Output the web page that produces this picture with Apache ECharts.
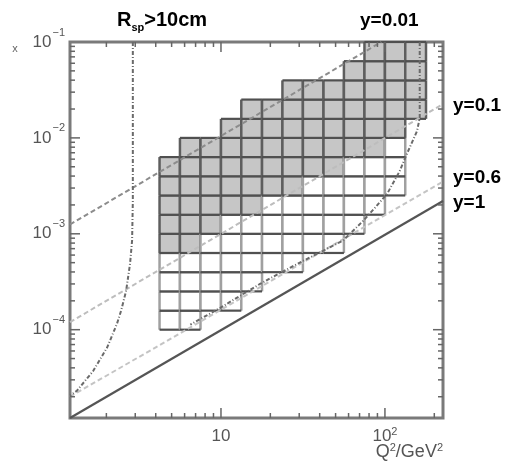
<!DOCTYPE html>
<html>
<head>
<meta charset="utf-8">
<title>R_sp>10cm</title>
<script src="https://cdn.jsdelivr.net/npm/echarts@6.0.0/dist/echarts.min.js"></script>
<style>
html, body { margin: 0; padding: 0; background: #fff; }
#main { width: 509px; height: 463px; }
</style>
</head>
<body>
<div id="main"></div>
<script>
// bin edges (Q2 columns, x rows)
var q2Edges = [4.22, 5.62, 7.5, 10, 13.3, 17.8, 23.7, 31.6, 42.2, 56.2, 75, 100, 133, 178];
var xEdges = [1e-4, 1.58e-4, 2.51e-4, 3.98e-4, 6.31e-4, 1e-3, 1.58e-3, 2.51e-3, 3.98e-3, 6.31e-3,
              1e-2, 1.58e-2, 2.51e-2, 3.98e-2, 6.31e-2, 1e-1];
// for each Q2 column: lowest row, highest row, first shaded row
var colLow  = [0, 0, 1, 1, 2, 3, 3, 4, 4, 5, 6, 7, 11];
var colHigh = [8, 9, 9, 10, 11, 11, 12, 12, 12, 13, 14, 14, 14];
var colGrey = [4, 4, 5, 6, 6, 7, 7, 8, 8, 9, 9, 10, 11];

// lines of constant y
var lineY1   = [[1.2, 1.2e-5], [226, 2.2e-3]];
var lineY06  = [[1.2, 2.0e-5], [226, 3.5e-3]];
var lineY01  = [[1.2, 1.2e-4], [226, 2.25e-2]];
var lineY001 = [[1.2, 1.25e-3], [95, 0.1]];
// acceptance curves
var accLeft = [[2.9, 0.1], [2.9, 2.2e-3], [2.87, 8.5e-4], [2.79, 4.9e-4], [2.64, 2.55e-4], [2.46, 1.58e-4],
               [2.32, 1.15e-4], [2.02, 6.5e-5], [1.66, 3.7e-5], [1.32, 2.3e-5], [1.2, 2.05e-5]];
var accRight = [[163, 0.1], [163, 1.62e-2], [157, 1.18e-2], [136, 6.8e-3], [123, 4.5e-3], [103, 2.6e-3],
                [87, 1.87e-3], [73.5, 1.36e-3], [55.5, 8.5e-4], [41.9, 6.65e-4], [31.6, 5.2e-4],
                [22.9, 3.9e-4], [17.3, 3.0e-4], [13.1, 2.26e-4], [9.9, 1.69e-4], [6.5, 1.13e-4]];

// axis ticks
var xMajorTicks = [10, 100];
var xMinorTicks = [2, 3, 4, 5, 6, 7, 8, 9, 20, 30, 40, 50, 60, 70, 80, 90, 200];
var yMajorTicks = [1e-4, 1e-3, 1e-2];
var yMinorTicks = [2e-5, 3e-5, 4e-5, 5e-5, 6e-5, 7e-5, 8e-5, 9e-5,
                   2e-4, 3e-4, 4e-4, 5e-4, 6e-4, 7e-4, 8e-4, 9e-4,
                   2e-3, 3e-3, 4e-3, 5e-3, 6e-3, 7e-3, 8e-3, 9e-3,
                   2e-2, 3e-2, 4e-2, 5e-2, 6e-2, 7e-2, 8e-2, 9e-2];

var Q2MIN = 1.2, Q2MAX = 226, XMIN = 1.2e-5, XMAX = 0.1;

var cells = [];
for (var i = 0; i < q2Edges.length - 1; i++) {
    for (var j = colLow[i]; j <= colHigh[i]; j++) {
        cells.push([q2Edges[i], q2Edges[i + 1], xEdges[j], xEdges[j + 1], j >= colGrey[i] ? 1 : 0]);
    }
}

var ticks = [];
xMinorTicks.forEach(function (v) { ticks.push([v, 1e-3, 0]); });
xMajorTicks.forEach(function (v) { ticks.push([v, 1e-3, 1]); });
yMinorTicks.forEach(function (v) { ticks.push([10, v, 2]); });
yMajorTicks.forEach(function (v) { ticks.push([10, v, 3]); });

function renderCell(params, api) {
    var p0 = api.coord([api.value(0), api.value(3)]);
    var p1 = api.coord([api.value(1), api.value(2)]);
    var grey = api.value(4) === 1;
    var x0 = p0[0], y0 = p0[1], x1 = p1[0], y1 = p1[1];
    var vSt = { stroke: grey ? '#5e5e5e' : '#a0a0a0', lineWidth: 2.5 };
    var hSt = { stroke: '#505050', lineWidth: 2.2 };
    return {
        type: 'group',
        children: [
            { type: 'rect', shape: { x: x0, y: y0, width: x1 - x0, height: y1 - y0 },
              style: { fill: grey ? '#c6c6c6' : '#fff' } },
            { type: 'line', shape: { x1: x0, y1: y0, x2: x0, y2: y1 }, style: vSt },
            { type: 'line', shape: { x1: x1, y1: y0, x2: x1, y2: y1 }, style: vSt },
            { type: 'line', shape: { x1: x0, y1: y0, x2: x1, y2: y0 }, style: hSt },
            { type: 'line', shape: { x1: x0, y1: y1, x2: x1, y2: y1 }, style: hSt }
        ]
    };
}

function renderTick(params, api) {
    var cs = params.coordSys;
    var k = api.value(2);
    var p = api.coord([api.value(0), api.value(1)]);
    var len = (k === 1 || k === 3) ? 10 : 5;
    var st = { stroke: '#666', lineWidth: 1.5 };
    var bot = cs.y + cs.height, right = cs.x + cs.width;
    if (k < 2) {
        return { type: 'group', children: [
            { type: 'line', shape: { x1: p[0], y1: bot, x2: p[0], y2: bot - len }, style: st },
            { type: 'line', shape: { x1: p[0], y1: cs.y, x2: p[0], y2: cs.y + len }, style: st }
        ] };
    }
    return { type: 'group', children: [
        { type: 'line', shape: { x1: cs.x, y1: p[1], x2: cs.x + len, y2: p[1] }, style: st },
        { type: 'line', shape: { x1: right, y1: p[1], x2: right - len, y2: p[1] }, style: st }
    ] };
}

function powLabel(v) {
    var l = Math.log10(v);
    var e = Math.round(l);
    if (Math.abs(l - e) > 1e-6) return '';
    if (e === 1) return '{b|10}';
    return '{b|10}{s|' + String(e).replace('-', '\u2212') + '}';
}

function lineSeries(data, color, type, width) {
    return {
        type: 'line', data: data, showSymbol: false, symbol: 'none', silent: true, z: 5,
        lineStyle: { color: color, type: type, width: width }
    };
}

var myChart = echarts.init(document.getElementById('main'));

var option = {
    backgroundColor: '#fff',
    animation: false,
    textStyle: { fontFamily: 'Liberation Sans, Arial, sans-serif' },
    grid: {
        left: 70, right: 66, top: 42, bottom: 45,
        show: true, borderColor: '#7a7a7a', borderWidth: 3, backgroundColor: 'transparent'
    },
    xAxis: {
        type: 'log', logBase: 10, min: Q2MIN, max: Q2MAX,
        axisLine: { show: false }, axisTick: { show: false }, splitLine: { show: false },
        axisLabel: {
            margin: 10, formatter: powLabel,
            rich: {
                b: { fontSize: 17, lineHeight: 17, color: '#555' },
                s: { fontSize: 11, lineHeight: 11, color: '#555', padding: [0, 0, 10, 0] }
            }
        }
    },
    yAxis: {
        type: 'log', logBase: 10, min: XMIN, max: XMAX,
        axisLine: { show: false }, axisTick: { show: false }, splitLine: { show: false },
        axisLabel: {
            margin: 5, formatter: powLabel,
            rich: {
                b: { fontSize: 17, lineHeight: 17, color: '#555' },
                s: { fontSize: 11, lineHeight: 11, color: '#555', padding: [0, 0, 19, 1] }
            }
        }
    },
    series: [
        { type: 'custom', renderItem: renderCell, data: cells, z: 2, silent: true,
          encode: { x: [0, 1], y: [2, 3] } },
        lineSeries(lineY01, '#bdbdbd', [5, 3], 2),
        lineSeries(lineY06, '#c4c4c4', [5, 3], 2),
        lineSeries(lineY001, '#8c8c8c', [5, 3], 2),
        lineSeries(lineY1, '#555', 'solid', 2.2),
        lineSeries(accLeft, '#6a6a6a', [4, 2, 1, 2], 2),
        lineSeries(accRight, '#6a6a6a', [4, 2, 1, 2], 2),
        { type: 'custom', renderItem: renderTick, data: ticks, z: 6, silent: true,
          encode: { x: 0, y: 1 } }
    ],
    graphic: [
        { type: 'text', x: 117, y: 20, style: {
            text: '{r|R}{s|sp}{t|>10cm}', verticalAlign: 'middle',
            rich: {
                r: { fontSize: 20, lineHeight: 20, fontWeight: 'bold', fill: '#000' },
                s: { fontSize: 11, lineHeight: 11, fontWeight: 'bold', fill: '#000', padding: [15, 0, 0, 0] },
                t: { fontSize: 20, lineHeight: 20, fontWeight: 'bold', fill: '#000' }
            } } },
        { type: 'text', x: 360, y: 21, style: { text: 'y=0.01', fill: '#000',
            font: 'bold 19px Liberation Sans, Arial, sans-serif', verticalAlign: 'middle' } },
        { type: 'text', x: 453, y: 106, style: { text: 'y=0.1', fill: '#000',
            font: 'bold 19px Liberation Sans, Arial, sans-serif', verticalAlign: 'middle' } },
        { type: 'text', x: 453, y: 178, style: { text: 'y=0.6', fill: '#000',
            font: 'bold 19px Liberation Sans, Arial, sans-serif', verticalAlign: 'middle' } },
        { type: 'text', x: 453, y: 203, style: { text: 'y=1', fill: '#000',
            font: 'bold 19px Liberation Sans, Arial, sans-serif', verticalAlign: 'middle' } },
        { type: 'text', x: 15, y: 49, style: { text: 'x', fill: '#666', align: 'center',
            font: '11px Liberation Sans, Arial, sans-serif', verticalAlign: 'middle' } },
        { type: 'text', x: 443, y: 452, style: {
            text: '{b|Q}{s|2}{b|/GeV}{s|2}', align: 'right', verticalAlign: 'middle',
            rich: {
                b: { fontSize: 18, lineHeight: 18, fill: '#555' },
                s: { fontSize: 11, lineHeight: 11, fill: '#555', padding: [0, 0, 8, 0] }
            } } }
    ]
};

myChart.setOption(option, true);
</script>
</body>
</html>
